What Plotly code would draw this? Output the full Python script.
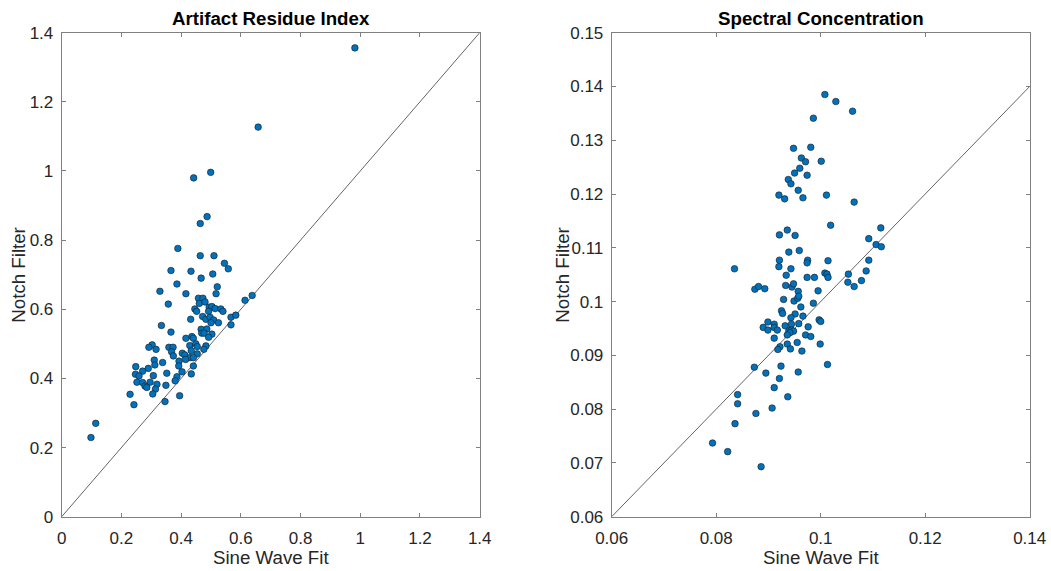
import plotly.graph_objects as go

W, H = 1051, 571

# Artifact Residue Index: sine-wave fit vs notch filter
ari_sine = [0.389, 0.464, 0.510, 0.545, 0.558, 0.366, 0.433, 0.506, 0.467, 0.386,
            0.521, 0.329, 0.416, 0.517, 0.458, 0.473, 0.614, 0.638, 0.357, 0.461,
            0.480, 0.494, 0.503, 0.514, 0.533, 0.540, 0.446, 0.452, 0.492, 0.472,
            0.483, 0.497, 0.509, 0.525, 0.500, 0.432, 0.567, 0.583, 0.567, 0.334,
            0.366, 0.467, 0.486, 0.469, 0.477, 0.503, 0.492, 0.436, 0.416, 0.441,
            0.303, 0.292, 0.316, 0.359, 0.373, 0.368, 0.429, 0.449, 0.454, 0.483,
            0.476, 0.434, 0.404, 0.412, 0.454, 0.374, 0.430, 0.441, 0.415, 0.310,
            0.338, 0.393, 0.312, 0.392, 0.441, 0.248, 0.290, 0.271, 0.247, 0.259,
            0.307, 0.352, 0.403, 0.434, 0.386, 0.380, 0.252, 0.271, 0.296, 0.279,
            0.285, 0.319, 0.349, 0.314, 0.305, 0.229, 0.395, 0.346, 0.242,
            0.982, 0.658, 0.114, 0.098, 0.442, 0.499, 0.487, 0.464]
ari_notch = [0.776, 0.755, 0.755, 0.733, 0.717, 0.712, 0.710, 0.702, 0.690, 0.673,
             0.665, 0.652, 0.645, 0.645, 0.632, 0.632, 0.626, 0.640, 0.615, 0.617,
             0.621, 0.606, 0.608, 0.602, 0.601, 0.594, 0.601, 0.594, 0.594, 0.579,
             0.571, 0.577, 0.569, 0.561, 0.561, 0.571, 0.577, 0.583, 0.555, 0.553,
             0.534, 0.542, 0.543, 0.531, 0.531, 0.528, 0.519, 0.521, 0.516, 0.516,
             0.497, 0.490, 0.484, 0.490, 0.490, 0.477, 0.495, 0.500, 0.492, 0.494,
             0.484, 0.480, 0.473, 0.468, 0.471, 0.465, 0.460, 0.460, 0.455, 0.453,
             0.446, 0.450, 0.439, 0.436, 0.436, 0.434, 0.429, 0.421, 0.412, 0.407,
             0.408, 0.415, 0.419, 0.413, 0.405, 0.393, 0.389, 0.388, 0.389, 0.378,
             0.374, 0.383, 0.380, 0.369, 0.355, 0.354, 0.350, 0.333, 0.324,
             1.356, 1.127, 0.270, 0.229, 0.980, 0.996, 0.868, 0.848]

# Spectral Concentration: sine-wave fit vs notch filter
sc_sine = [0.1008, 0.1029, 0.1061, 0.0986, 0.0948, 0.0981, 0.0963, 0.0971, 0.1001, 0.0960,
           0.0950, 0.0974, 0.0938, 0.0943, 0.0957, 0.0920, 0.0931, 0.0966, 0.1011, 0.1064,
           0.1019, 0.1115, 0.0921, 0.0936, 0.0951, 0.1092, 0.1106, 0.1116, 0.0939, 0.0959,
           0.0835, 0.0921, 0.0920, 0.0975, 0.0974, 0.1014, 0.1092, 0.0943, 0.0934, 0.1008,
           0.1012, 0.1053, 0.1087, 0.0974, 0.0988, 0.1014, 0.1078, 0.1052, 0.1064, 0.0874,
           0.0881, 0.0893, 0.0933, 0.0945, 0.0948, 0.0957, 0.0995, 0.0929, 0.0949, 0.0956,
           0.0958, 0.0986, 0.0962, 0.0925, 0.0927, 0.0951, 0.0966, 0.0943, 0.0997, 0.1000,
           0.0899, 0.0911, 0.0890, 0.0899, 0.0911, 0.0917, 0.0932, 0.0944, 0.0958, 0.0976,
           0.0939, 0.0944, 0.0948, 0.0941, 0.0936, 0.0971, 0.0981, 0.0911, 0.0955, 0.0936,
           0.0922, 0.0918, 0.0942, 0.0964, 0.0999, 0.0873, 0.0924, 0.1013, 0.0895, 0.0957,
           0.0921, 0.0911, 0.0841, 0.0841, 0.0937, 0.0907, 0.0876, 0.0836, 0.0793, 0.0822,
           0.0886]
sc_notch = [0.1385, 0.1372, 0.1354, 0.1341, 0.1285, 0.1287, 0.1267, 0.1260, 0.1261, 0.1248,
            0.1239, 0.1235, 0.1227, 0.1219, 0.1207, 0.1198, 0.1191, 0.1193, 0.1198, 0.1185,
            0.1142, 0.1137, 0.1124, 0.1133, 0.1123, 0.1117, 0.1106, 0.1102, 0.1092, 0.1095,
            0.1061, 0.1077, 0.1065, 0.1077, 0.1072, 0.1076, 0.1077, 0.1061, 0.1049, 0.1053,
            0.1051, 0.1051, 0.1057, 0.1045, 0.1045, 0.1045, 0.1039, 0.1036, 0.1028, 0.1023,
            0.1028, 0.1024, 0.1030, 0.1027, 0.1033, 0.1019, 0.1020, 0.1004, 0.1001, 0.1006,
            0.1010, 0.0997, 0.0990, 0.0983, 0.0978, 0.0977, 0.0973, 0.0970, 0.0966, 0.0963,
            0.0962, 0.0958, 0.0952, 0.0947, 0.0952, 0.0947, 0.0955, 0.0958, 0.0959, 0.0953,
            0.0946, 0.0947, 0.0945, 0.0942, 0.0938, 0.0938, 0.0935, 0.0932, 0.0924, 0.0921,
            0.0916, 0.0911, 0.0912, 0.0908, 0.0921, 0.0878, 0.0880, 0.0883, 0.0867, 0.0869,
            0.0857, 0.0840, 0.0827, 0.0810, 0.0823, 0.0802, 0.0792, 0.0773, 0.0737, 0.0721,
            0.0693]

ari_range = [0, 1.4]
sc_xrange = [0.06, 0.14]
sc_yrange = [0.06, 0.15]

FONT = "Liberation Sans, Arial, sans-serif"
TXT = "#262626"
AX = "#808080"
DOT = "#0072BD"


def px_x(p):
    return p / W


def px_y(p):
    return 1 - p / H


fig = go.Figure()

marker = dict(size=6.6, color=DOT, line=dict(color="#1a1a1a", width=0.6))
diag = dict(color="#3c3c3c", width=0.8)

# identity lines
fig.add_trace(go.Scatter(x=ari_range, y=ari_range, mode="lines", line=diag,
                         xaxis="x", yaxis="y", hoverinfo="skip", showlegend=False))
fig.add_trace(go.Scatter(x=sc_xrange, y=sc_xrange, mode="lines", line=diag,
                         xaxis="x2", yaxis="y2", hoverinfo="skip", showlegend=False))

fig.add_trace(go.Scatter(x=ari_sine, y=ari_notch, mode="markers", marker=marker,
                         xaxis="x", yaxis="y", showlegend=False))
fig.add_trace(go.Scatter(x=sc_sine, y=sc_notch, mode="markers", marker=marker,
                         xaxis="x2", yaxis="y2", showlegend=False))

axis_common = dict(
    showgrid=False, zeroline=False, showline=True, linecolor=AX, linewidth=1,
    mirror="ticks", ticks="inside", ticklen=4, tickwidth=1, tickcolor=AX,
    tickfont=dict(family=FONT, size=17, color=TXT), automargin=False,
)

ydom = [1 - 516.7 / H, 1 - 32.7 / H]

fig.update_layout(
    width=W, height=H,
    margin=dict(l=0, r=0, t=0, b=0, pad=0, autoexpand=False),
    paper_bgcolor="white", plot_bgcolor="white",
    xaxis=dict(domain=[61.7 / W, 479.7 / W], range=ari_range, dtick=0.2,
               anchor="y", ticklabelstandoff=6, **axis_common),
    yaxis=dict(domain=ydom, range=ari_range, dtick=0.2,
               anchor="x", ticklabelstandoff=4, **axis_common),
    xaxis2=dict(domain=[611.7 / W, 1029.7 / W], range=sc_xrange, dtick=0.02,
                anchor="y2", ticklabelstandoff=6, **axis_common),
    yaxis2=dict(domain=ydom, range=sc_yrange, dtick=0.01,
                anchor="x2", ticklabelstandoff=4, **axis_common),
)

title_font = dict(family=FONT, size=18.7, color="black")
label_font = dict(family=FONT, size=18.7, color=TXT)

annotations = [
    dict(text="<b>Artifact Residue Index</b>", x=px_x(270.7), y=px_y(18.5), font=title_font),
    dict(text="<b>Spectral Concentration</b>", x=px_x(820.7), y=px_y(18.5), font=title_font),
    dict(text="Sine Wave Fit", x=px_x(270.7), y=px_y(557.5), font=label_font),
    dict(text="Sine Wave Fit", x=px_x(820.7), y=px_y(557.5), font=label_font),
    dict(text="Notch Filter", x=px_x(19), y=px_y(274.7), font=label_font, textangle=-90),
    dict(text="Notch Filter", x=px_x(563), y=px_y(274.7), font=label_font, textangle=-90),
]
for a in annotations:
    a.update(xref="paper", yref="paper", showarrow=False, xanchor="center", yanchor="middle")
fig.update_layout(annotations=annotations)

fig.write_html("out.html")
